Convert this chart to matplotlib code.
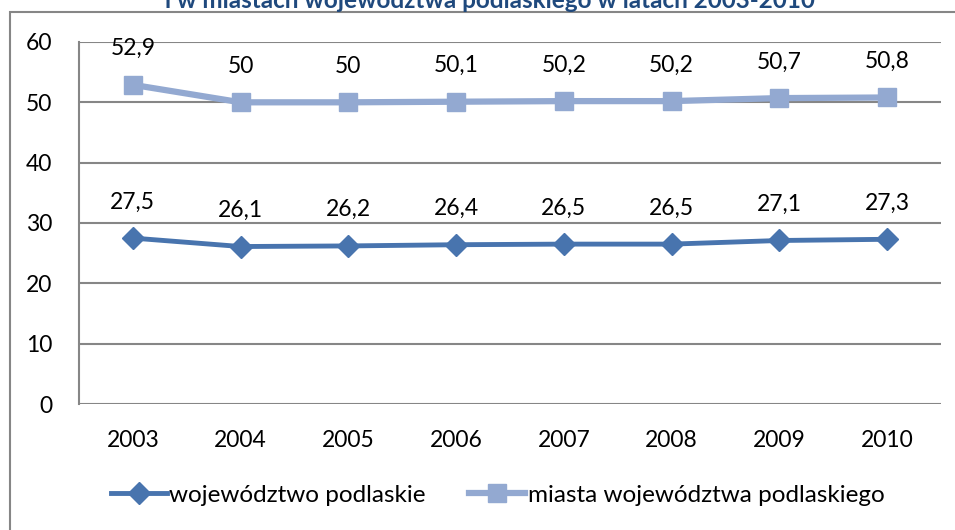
import matplotlib.pyplot as plt
from matplotlib.patches import Rectangle

years = ["2003", "2004", "2005", "2006", "2007", "2008", "2009", "2010"]
woj = [27.5, 26.1, 26.2, 26.4, 26.5, 26.5, 27.1, 27.3]
miasta = [52.9, 50, 50, 50.1, 50.2, 50.2, 50.7, 50.8]
woj_labels = ["27,5", "26,1", "26,2", "26,4", "26,5", "26,5", "27,1", "27,3"]
miasta_labels = ["52,9", "50", "50", "50,1", "50,2", "50,2", "50,7", "50,8"]

dark = "#4874AE"
light = "#93A9D1"
grid = "#868686"

plt.rcParams['font.family'] = ['Lato', 'DejaVu Sans']

fig = plt.figure(figsize=(9.55, 5.3), dpi=100)
ax = fig.add_axes([0.0827, 0.2377, 0.9026, 0.6831])

# outer chart frame (cut off at right and bottom)
fig.patches.append(Rectangle((10 / 955, -0.1), 1.2, 1.1 - 12 / 530,
                             transform=fig.transFigure, fill=False,
                             edgecolor=grid, linewidth=1.5))

x = list(range(len(years)))
ax.plot(x, woj, color=dark, linewidth=3.5, marker="D", markersize=11,
        label="województwo podlaskie")
ax.plot(x, miasta, color=light, linewidth=4.5, marker="s", markersize=13,
        label="miasta województwa podlaskiego")

for i in x:
    ax.annotate(woj_labels[i], (i, woj[i]), xytext=(0, 26), textcoords="offset points",
                ha="center", va="center", fontsize=16.5)
    ax.annotate(miasta_labels[i], (i, miasta[i]), xytext=(0, 26), textcoords="offset points",
                ha="center", va="center", fontsize=16.5)

ax.set_xlim(-0.5, 7.5)
ax.set_ylim(0, 60)
ax.set_yticks(range(0, 61, 10))
ax.set_xticks(x)
ax.set_xticklabels(years)
ax.tick_params(axis="both", length=0, labelsize=16.5)
ax.tick_params(axis="y", pad=19)
ax.tick_params(axis="x", pad=19)
ax.yaxis.grid(True, color=grid, linewidth=1.5)
ax.set_axisbelow(True)
for s in ["top", "right", "bottom"]:
    ax.spines[s].set_visible(False)
ax.spines["left"].set_color(grid)
ax.spines["left"].set_linewidth(1.5)

fig.text(0.513, 1 - 8 / 530, "i w miastach województwa podlaskiego w latach 2003-2010",
         ha="center", va="baseline", fontsize=17.5, fontweight="bold", color="#1F497D")

fig.legend(loc="center", bbox_to_anchor=(0.521, 1 - 495 / 530), ncol=2, frameon=False,
           fontsize=17.5, handlelength=2.3, handletextpad=0.1, columnspacing=1.8)

fig.savefig("out.png", dpi=100)
